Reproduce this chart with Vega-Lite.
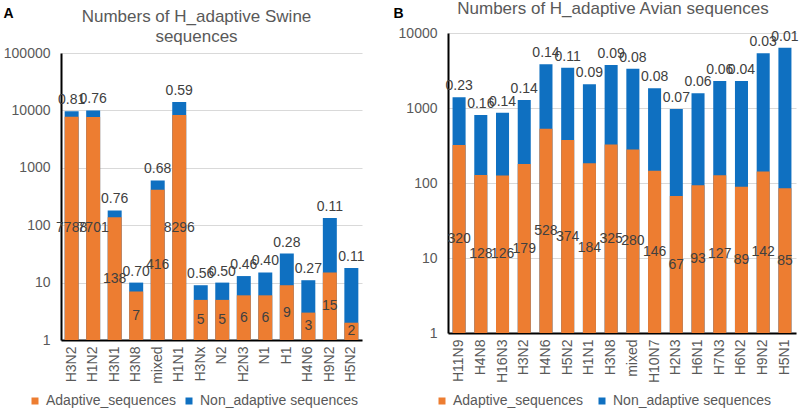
{
  "$schema": "https://vega.github.io/schema/vega-lite/v6.json",
  "background": "white",
  "padding": {"left": 3, "top": 0, "right": 0, "bottom": 2},
  "spacing": 28,
  "align": "none",
  "config": {
    "font": "Liberation Sans",
    "view": {"stroke": null},
    "title": {"fontSize": 17, "fontWeight": "normal", "color": "#595959", "font": "Liberation Sans"},
    "axis": {"labelFont": "Liberation Sans", "labelFontSize": 14, "labelColor": "#595959"},
    "legend": {"labelFont": "Liberation Sans", "labelFontSize": 14, "labelColor": "#595959", "padding": 0}
  },
  "resolve": {"scale": {"color": "independent"}, "legend": {"color": "independent"}},
  "hconcat": [
    {
      "width": 301,
      "height": 287,
      "title": {"text": ["Numbers of H_adaptive Swine", "sequences"], "dx": -15, "offset": -40, "lineHeight": 20},
      "data": {"values": [
        {"sub": "H3N2", "adaptive": 7788, "total": 9640, "ratio": 0.81},
        {"sub": "H1N2", "adaptive": 7701, "total": 10000, "ratio": 0.76},
        {"sub": "H3N1", "adaptive": 138, "total": 181, "ratio": 0.76},
        {"sub": "H3N8", "adaptive": 7, "total": 10, "ratio": 0.70},
        {"sub": "mixed", "adaptive": 416, "total": 603, "ratio": 0.68},
        {"sub": "H1N1", "adaptive": 8296, "total": 14000, "ratio": 0.59},
        {"sub": "H3Nx", "adaptive": 5, "total": 9, "ratio": 0.56},
        {"sub": "N2", "adaptive": 5, "total": 10, "ratio": 0.50},
        {"sub": "H2N3", "adaptive": 6, "total": 13, "ratio": 0.46},
        {"sub": "N1", "adaptive": 6, "total": 15, "ratio": 0.40},
        {"sub": "H1", "adaptive": 9, "total": 32, "ratio": 0.28},
        {"sub": "H4N6", "adaptive": 3, "total": 11, "ratio": 0.27},
        {"sub": "H9N2", "adaptive": 15, "total": 133, "ratio": 0.11},
        {"sub": "H5N2", "adaptive": 2, "total": 18, "ratio": 0.11}
      ]},
      "encoding": {
        "x": {"field": "sub", "type": "nominal", "sort": null,
          "scale": {"paddingInner": 0.35, "paddingOuter": 0.17},
          "axis": {"title": null, "labelAngle": 270, "ticks": false, "domainColor": "black", "domainWidth": 2, "labelPadding": 6, "grid": false}}
      },
      "layer": [
        {
          "mark": {"type": "bar"},
          "encoding": {
            "y": {"field": "total", "type": "quantitative",
              "scale": {"type": "log", "domain": [1, 100000], "nice": false},
              "axis": {"values": [1, 10, 100, 1000, 10000, 100000], "format": "d", "grid": true, "gridColor": "#D9D9D9", "domainColor": "black", "domainWidth": 2, "ticks": false, "labelPadding": 11,
                "title": "A", "titleAngle": 0, "titleX": -58, "titleY": -47, "titleAlign": "left", "titleBaseline": "top", "titleFontSize": 14, "titleFontWeight": "bold", "titleColor": "black", "titleFont": "Liberation Sans"}},
            "y2": {"datum": 1},
            "color": {"datum": "Non_adaptive sequences", "type": "nominal",
              "scale": {"domain": ["Adaptive_sequences", "Non_adaptive sequences"], "range": ["#ED7D31", "#0F70C1"]},
              "legend": {"title": null, "orient": "none", "legendX": -33, "legendY": 341, "direction": "horizontal", "symbolType": "square", "symbolSize": 49, "labelOffset": 4, "columnPadding": 6}}
          }
        },
        {
          "mark": {"type": "bar"},
          "encoding": {
            "y": {"field": "adaptive", "type": "quantitative", "scale": {"type": "log", "domain": [1, 100000], "nice": false}, "axis": null},
            "y2": {"datum": 1},
            "color": {"datum": "Adaptive_sequences", "type": "nominal"}
          }
        },
        {
          "mark": {"type": "text", "baseline": "bottom", "dy": -4, "fontSize": 14, "color": "#404040", "font": "Liberation Sans"},
          "encoding": {
            "y": {"field": "total", "type": "quantitative", "scale": {"type": "log", "domain": [1, 100000], "nice": false}, "axis": null},
            "text": {"field": "ratio", "type": "quantitative", "format": ".2f"}
          }
        },
        {
          "mark": {"type": "text", "baseline": "middle", "fontSize": 14, "color": "#404040", "font": "Liberation Sans"},
          "encoding": {
            "y": {"field": "adaptive", "type": "quantitative", "scale": {"type": "log", "domain": [1, 10000000000], "nice": false}, "axis": null},
            "text": {"field": "adaptive", "type": "quantitative", "format": "d"}
          }
        }
      ],
      "resolve": {"scale": {"y": "independent"}}
    },
    {
      "width": 348,
      "height": 280,
      "title": {"text": "Numbers of H_adaptive Avian sequences", "dx": -9, "offset": -12},
      "data": {"values": [
        {"sub": "H11N9", "adaptive": 320, "total": 1388, "ratio": 0.23},
        {"sub": "H4N8", "adaptive": 128, "total": 807, "ratio": 0.16},
        {"sub": "H16N3", "adaptive": 126, "total": 865, "ratio": 0.14},
        {"sub": "H3N2", "adaptive": 179, "total": 1279, "ratio": 0.14},
        {"sub": "H4N6", "adaptive": 528, "total": 3820, "ratio": 0.14},
        {"sub": "H5N2", "adaptive": 374, "total": 3440, "ratio": 0.11},
        {"sub": "H1N1", "adaptive": 184, "total": 2070, "ratio": 0.09},
        {"sub": "H3N8", "adaptive": 325, "total": 3735, "ratio": 0.09},
        {"sub": "mixed", "adaptive": 280, "total": 3340, "ratio": 0.08},
        {"sub": "H10N7", "adaptive": 146, "total": 1830, "ratio": 0.08},
        {"sub": "H2N3", "adaptive": 67, "total": 970, "ratio": 0.07},
        {"sub": "H6N1", "adaptive": 93, "total": 1570, "ratio": 0.06},
        {"sub": "H7N3", "adaptive": 127, "total": 2290, "ratio": 0.06},
        {"sub": "H6N2", "adaptive": 89, "total": 2290, "ratio": 0.04},
        {"sub": "H9N2", "adaptive": 142, "total": 5350, "ratio": 0.03},
        {"sub": "H5N1", "adaptive": 85, "total": 6350, "ratio": 0.01}
      ]},
      "encoding": {
        "x": {"field": "sub", "type": "nominal", "sort": null,
          "scale": {"paddingInner": 0.4, "paddingOuter": 0.21},
          "axis": {"title": null, "labelAngle": 270, "ticks": false, "domainColor": "black", "domainWidth": 2, "labelPadding": 6, "grid": false}}
      },
      "layer": [
        {
          "mark": {"type": "bar"},
          "encoding": {
            "y": {"field": "total", "type": "quantitative",
              "scale": {"type": "log", "domain": [1, 10000], "nice": false, "range": [280, -20]},
              "axis": {"values": [1, 10, 100, 1000, 10000], "format": "d", "grid": true, "gridColor": "#D9D9D9", "domainColor": "black", "domainWidth": 2, "ticks": false, "labelPadding": 11,
                "title": "B", "titleAngle": 0, "titleX": -55, "titleY": -47, "titleAlign": "left", "titleBaseline": "top", "titleFontSize": 14, "titleFontWeight": "bold", "titleColor": "black", "titleFont": "Liberation Sans"}},
            "y2": {"datum": 1},
            "color": {"datum": "Non_adaptive sequences", "type": "nominal",
              "scale": {"domain": ["Adaptive_sequences", "Non_adaptive sequences"], "range": ["#ED7D31", "#0F70C1"]},
              "legend": {"title": null, "orient": "none", "legendX": -13, "legendY": 341, "direction": "horizontal", "symbolType": "square", "symbolSize": 49, "labelOffset": 4, "columnPadding": 12}}
          }
        },
        {
          "mark": {"type": "bar"},
          "encoding": {
            "y": {"field": "adaptive", "type": "quantitative", "scale": {"type": "log", "domain": [1, 10000], "nice": false, "range": [280, -20]}, "axis": null},
            "y2": {"datum": 1},
            "color": {"datum": "Adaptive_sequences", "type": "nominal"}
          }
        },
        {
          "mark": {"type": "text", "baseline": "bottom", "dy": -4, "fontSize": 14, "color": "#404040", "font": "Liberation Sans"},
          "encoding": {
            "y": {"field": "total", "type": "quantitative", "scale": {"type": "log", "domain": [1, 10000], "nice": false, "range": [280, -20]}, "axis": null},
            "text": {"field": "ratio", "type": "quantitative", "format": ".2f"}
          }
        },
        {
          "mark": {"type": "text", "baseline": "middle", "fontSize": 14, "color": "#404040", "font": "Liberation Sans"},
          "encoding": {
            "y": {"field": "adaptive", "type": "quantitative", "scale": {"type": "log", "domain": [1, 100000000], "nice": false, "range": [280, -20]}, "axis": null},
            "text": {"field": "adaptive", "type": "quantitative", "format": "d"}
          }
        }
      ],
      "resolve": {"scale": {"y": "independent"}}
    }
  ]
}
